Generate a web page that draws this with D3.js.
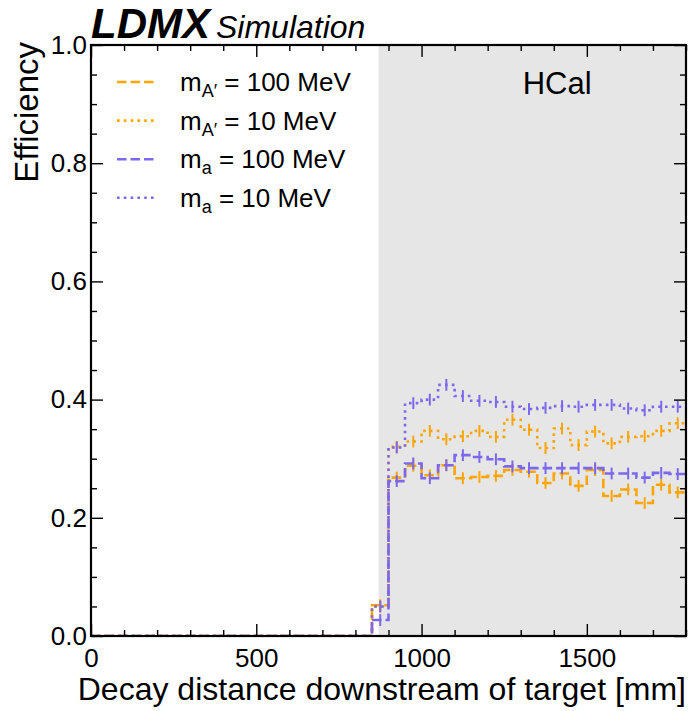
<!DOCTYPE html>
<html>
<head>
  <title>LDMX decay efficiency</title>
  <script src="https://d3js.org/d3.v7.min.js"></script>
  <style>
    body { margin: 0; background: #fff; }
    svg text { font-family: "Liberation Sans", Arial, Helvetica, sans-serif; fill: #000; }
    .tick text { font-size: 26px; }
  </style>
</head>
<body>
  <div id="chart"></div>
  <script>

    /* DATA (50 mm bins from 0 to 1800 mm) */

    let binEdges = d3.range(0, 1801, 50);
    let hcalStart = 870;
    let yErr = 0.01;

    let aPrime100 = [0,0,0,0,0,0,0,0,0,0,0,0,0,0,0,0,0,
      0.052, 0.268, 0.288, 0.272, 0.289, 0.267, 0.269, 0.271, 0.281, 0.278,
      0.259, 0.275, 0.254, 0.281, 0.237, 0.248, 0.225, 0.256, 0.243];

    let aPrime10 = [0,0,0,0,0,0,0,0,0,0,0,0,0,0,0,0,0,
      0.050, 0.320, 0.329, 0.347, 0.333, 0.338, 0.347, 0.337, 0.366, 0.349,
      0.318, 0.351, 0.323, 0.346, 0.326, 0.337, 0.338, 0.347, 0.360];

    let alp100 = [0,0,0,0,0,0,0,0,0,0,0,0,0,0,0,0,0,
      0.027, 0.262, 0.292, 0.267, 0.289, 0.306, 0.303, 0.299, 0.287, 0.284,
      0.284, 0.284, 0.284, 0.284, 0.275, 0.275, 0.268, 0.276, 0.274];

    let alp10 = [0,0,0,0,0,0,0,0,0,0,0,0,0,0,0,0,0,
      0.050, 0.319, 0.394, 0.400, 0.425, 0.406, 0.398, 0.396, 0.388, 0.384,
      0.386, 0.389, 0.388, 0.391, 0.391, 0.385, 0.382, 0.388, 0.388];

    let series = [
      {sub: "A\u2032", mass: "100 MeV", values: aPrime100, color: "#FFA500", dash: "9.5,4"},
      {sub: "A\u2032", mass: "10 MeV",  values: aPrime10,  color: "#FFA500", dash: "2.6,4.2"},
      {sub: "a",       mass: "100 MeV", values: alp100,    color: "#7B68EE", dash: "9.5,4"},
      {sub: "a",       mass: "10 MeV",  values: alp10,     color: "#7B68EE", dash: "2.6,4.2"}
    ];

    /* SVG AND SCALES */

    let width = 688, height = 711;
    let margin = {top: 45, left: 91, right: 2, bottom: 75};

    let svg = d3.select("#chart")
      .append("svg")
      .attr("width", width)
      .attr("height", height);

    let x = d3.scaleLinear()
      .domain([0, 1800])
      .range([margin.left, width - margin.right]);

    let y = d3.scaleLinear()
      .domain([0, 1])
      .range([height - margin.bottom, margin.top]);

    svg.append("clipPath").attr("id", "plotArea")
      .append("rect")
      .attr("x", x(0)).attr("y", y(1))
      .attr("width", x(1800) - x(0)).attr("height", y(0) - y(1));

    /* HCAL REGION */

    svg.append("rect")
      .attr("x", x(hcalStart))
      .attr("y", y(1))
      .attr("width", x(1800) - x(hcalStart))
      .attr("height", y(0) - y(1))
      .attr("fill", "#e6e6e6");

    svg.append("text")
      .attr("x", x(1410))
      .attr("y", y(0.917))
      .attr("text-anchor", "middle")
      .style("font-size", "31px")
      .text("HCal");

    /* HISTOGRAM STEPS AND ERROR BARS */

    let plot = svg.append("g").attr("clip-path", "url(#plotArea)");

    let step = d3.line()
      .x(function(d) { return x(d[0]); })
      .y(function(d) { return y(d[1]); })
      .curve(d3.curveStepAfter);

    series.forEach(function(s) {
      let pts = s.values.map(function(v, i) { return [binEdges[i], v]; });
      pts.push([binEdges[binEdges.length - 1], s.values[s.values.length - 1]]);

      plot.append("path")
        .datum(pts)
        .attr("d", step)
        .attr("fill", "none")
        .attr("stroke", s.color)
        .attr("stroke-width", 2.6)
        .attr("stroke-dasharray", s.dash);

      let bins = s.values.map(function(v, i) {
        return {c: (binEdges[i] + binEdges[i + 1]) / 2, v: v};
      }).filter(function(d) { return d.v > 0; });

      plot.selectAll(null)
        .data(bins)
        .enter()
        .append("line")
          .attr("x1", function(d) { return x(d.c); })
          .attr("x2", function(d) { return x(d.c); })
          .attr("y1", function(d) { return y(d.v - yErr); })
          .attr("y2", function(d) { return y(d.v + yErr); })
          .attr("stroke", s.color)
          .attr("stroke-width", 2);
    });

    /* AXES (ticks pointing inwards on all four sides) */

    let xMajor = [0, 500, 1000, 1500];
    let xMinor = d3.range(0, 1801, 100).filter(function(v) { return v % 500 !== 0; });
    let yMajor = [0, 0.2, 0.4, 0.6, 0.8, 1.0];
    let yMinor = d3.range(0.05, 1, 0.05).filter(function(v) { return Math.abs(v * 5 - Math.round(v * 5)) > 1e-6; });

    function styleAxis(g) {
      g.select(".domain").remove();
      g.selectAll(".tick line").attr("stroke", "#000").attr("stroke-width", 1.4);
    }

    svg.append("g")
      .attr("transform", `translate(0, ${y(0)})`)
      .call(d3.axisBottom(x).tickValues(xMajor).tickSize(-12).tickPadding(13).tickFormat(d3.format("d")))
      .call(styleAxis);
    svg.append("g")
      .attr("transform", `translate(0, ${y(0)})`)
      .call(d3.axisBottom(x).tickValues(xMinor).tickSize(-6).tickFormat(""))
      .call(styleAxis);
    svg.append("g")
      .attr("transform", `translate(0, ${y(1)})`)
      .call(d3.axisTop(x).tickValues(xMajor).tickSize(-12).tickFormat(""))
      .call(styleAxis);
    svg.append("g")
      .attr("transform", `translate(0, ${y(1)})`)
      .call(d3.axisTop(x).tickValues(xMinor).tickSize(-6).tickFormat(""))
      .call(styleAxis);

    svg.append("g")
      .attr("transform", `translate(${x(0)}, 0)`)
      .call(d3.axisLeft(y).tickValues(yMajor).tickSize(-12).tickPadding(4).tickFormat(d3.format(".1f")))
      .call(styleAxis);
    svg.append("g")
      .attr("transform", `translate(${x(0)}, 0)`)
      .call(d3.axisLeft(y).tickValues(yMinor).tickSize(-6).tickFormat(""))
      .call(styleAxis);
    svg.append("g")
      .attr("transform", `translate(${x(1800)}, 0)`)
      .call(d3.axisRight(y).tickValues(yMajor).tickSize(-12).tickFormat(""))
      .call(styleAxis);
    svg.append("g")
      .attr("transform", `translate(${x(1800)}, 0)`)
      .call(d3.axisRight(y).tickValues(yMinor).tickSize(-6).tickFormat(""))
      .call(styleAxis);

    /* FRAME */

    svg.append("rect")
      .attr("x", x(0)).attr("y", y(1))
      .attr("width", x(1800) - x(0)).attr("height", y(0) - y(1))
      .attr("fill", "none")
      .attr("stroke", "#000")
      .attr("stroke-width", 2.2);

    /* AXIS LABELS */

    svg.append("text")
      .attr("x", x(1800))
      .attr("y", 700)
      .attr("text-anchor", "end")
      .style("font-size", "32px")
      .text("Decay distance downstream of target [mm]");

    svg.append("text")
      .attr("transform", "rotate(-90)")
      .attr("x", -y(1) + 3)
      .attr("y", 38)
      .attr("text-anchor", "end")
      .style("font-size", "33px")
      .text("Efficiency");

    /* TITLE */

    let title = svg.append("text")
      .attr("x", x(0))
      .attr("y", 38);
    title.append("tspan")
      .style("font-size", "42px")
      .style("font-weight", "bold")
      .style("font-style", "italic")
      .text("LDMX");
    title.append("tspan")
      .attr("dx", 6)
      .style("font-size", "32px")
      .style("font-style", "italic")
      .text("Simulation");

    /* LEGEND */

    let legend = svg.append("g");
    series.forEach(function(s, i) {
      let ly = 82 + i * 38.6;
      legend.append("line")
        .attr("x1", 117).attr("x2", 157)
        .attr("y1", ly).attr("y2", ly)
        .attr("stroke", s.color)
        .attr("stroke-width", 2.6)
        .attr("stroke-dasharray", s.dash);

      let t = legend.append("text")
        .attr("x", 180)
        .attr("y", ly + 9)
        .style("font-size", "26px");
      t.append("tspan").text("m");
      t.append("tspan")
        .attr("dy", 6)
        .style("font-size", "18px")
        .text(s.sub);
      t.append("tspan")
        .attr("dy", -6)
        .text(" = " + s.mass);
    });

  </script>
</body>
</html>
